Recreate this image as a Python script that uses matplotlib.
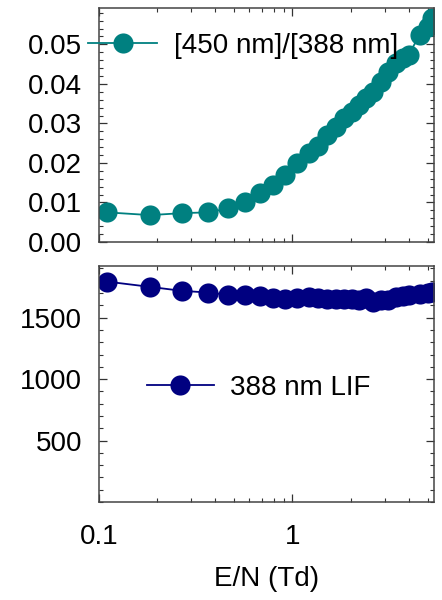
import numpy as np
import matplotlib
matplotlib.use("Agg")
import matplotlib.pyplot as plt
from matplotlib.ticker import MultipleLocator, FixedLocator, FixedFormatter

plt.rcParams['font.family'] = ['Liberation Sans', 'DejaVu Sans']

# E/N values (Td), shared by both panels
en = [0.110, 0.184, 0.268, 0.368, 0.465, 0.569, 0.680, 0.797, 0.916, 1.057,
      1.215, 1.352, 1.51, 1.68, 1.86, 2.04, 2.22, 2.41, 2.61, 2.88,
      3.12, 3.44, 3.73, 4.0, 4.55, 5.02, 5.3]

# intensity ratio [450 nm]/[388 nm]
ratio = [0.0075, 0.0068, 0.0073, 0.0075, 0.0085, 0.0102, 0.0125, 0.0144, 0.0170, 0.0199,
         0.0225, 0.0243, 0.0271, 0.0292, 0.0313, 0.0330, 0.0347, 0.0364, 0.0380, 0.0406,
         0.0431, 0.0452, 0.0465, 0.0474, 0.0524, 0.0545, 0.0566]

# 388 nm LIF signal
lif = [1793, 1750, 1718, 1704, 1685, 1683, 1672, 1656, 1650, 1659,
       1664, 1659, 1650, 1650, 1655, 1650, 1645, 1659, 1631, 1640,
       1645, 1665, 1680, 1688, 1694, 1700, 1706]

teal = '#008080'
navy = '#000080'

fig = plt.figure(figsize=(4.42, 6.0), dpi=100)
ax1 = fig.add_axes([99 / 442, 1 - 242 / 600, 335 / 442, 234 / 600])
ax2 = fig.add_axes([99 / 442, 1 - 502 / 600, 335 / 442, 236 / 600])

ax1.plot(en, ratio, '-o', color=teal, lw=1.3, ms=14.5, mew=0, label='[450 nm]/[388 nm]')
ax2.plot(en, lif, '-o', color=navy, lw=1.3, ms=14.5, mew=0, label='388 nm LIF')

for ax in (ax1, ax2):
    ax.set_xscale('log')
    ax.set_xlim(0.1, 5.4)
    ax.tick_params(which='both', direction='in', top=True, right=True,
                   labelsize=20, color='#333333')
    ax.tick_params(which='major', length=6, width=0.9)
    ax.tick_params(which='minor', length=3, width=0.8)
    ax.tick_params(axis='y', pad=12)
    ax.tick_params(axis='x', pad=16)
    for s in ax.spines.values():
        s.set_color('#444444')
        s.set_linewidth(1.1)
    ax.xaxis.set_major_locator(FixedLocator([0.1, 1]))
    ax.xaxis.set_major_formatter(FixedFormatter(['0.1', '1']))

ax1.set_ylim(0, 0.0592)
ax1.yaxis.set_major_locator(MultipleLocator(0.01))
ax1.yaxis.set_minor_locator(MultipleLocator(0.002))
ax1.yaxis.set_major_formatter(plt.FormatStrFormatter('%.2f'))
ax1.tick_params(axis='x', labelbottom=False)

ax2.set_ylim(0, 1920)
ax2.set_yticks([500, 1000, 1500])
ax2.yaxis.set_minor_locator(MultipleLocator(100))

ax2.set_xlabel('E/N (Td)', fontsize=20)
ax2.xaxis.set_label_coords(0.5, -0.27)

ax1.legend(loc='center left', bbox_to_anchor=(-0.033, 0.838), frameon=False,
           fontsize=20, handlelength=2.5, handletextpad=0.6,
           borderpad=0, borderaxespad=0)
ax2.legend(loc='center left', bbox_to_anchor=(0.143, 0.483), frameon=False,
           fontsize=20, handlelength=2.4, handletextpad=0.6,
           borderpad=0, borderaxespad=0)

fig.savefig('out.png', dpi=100)
